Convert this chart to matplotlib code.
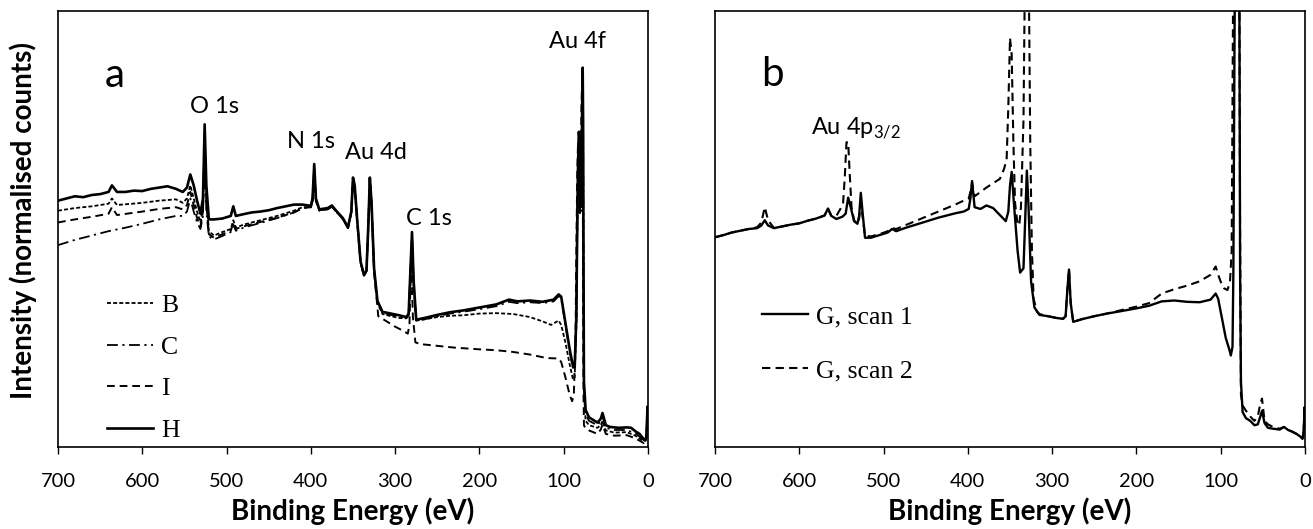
import matplotlib
matplotlib.use("Agg")
import matplotlib.pyplot as plt
import numpy as np

plt.rcParams['font.family'] = ['Lato', 'DejaVu Sans']
plt.rcParams['mathtext.fontset'] = 'custom'
plt.rcParams['mathtext.rm'] = 'Lato'

# ---------------- Panel a data (normalised counts, 0-100 of axis height) ----------------
H_x = [700, 690, 680, 670, 660, 650, 640, 636, 630, 620, 610, 600, 590, 580, 570, 560, 552, 547, 543, 539,
       535, 531, 528, 526, 524, 521, 515, 505, 495, 492, 489, 480, 470, 460, 450, 440, 430, 420, 410, 400,
       398, 396, 394, 390, 380, 375, 370, 362, 356, 352, 350, 348, 345, 341, 337, 334, 332, 330, 328, 325,
       321, 315, 305, 295, 287, 284, 282, 280, 278, 275, 265, 250, 235, 220, 200, 180, 165, 155, 140, 125,
       112, 106, 103, 98, 93, 89, 87, 85, 84, 83, 82, 81, 80, 79, 78, 77.5, 77, 76.5, 76, 74,
       70, 65, 60, 56, 54, 50, 45, 35, 25, 20, 15, 10, 5, 3, 2, 1, 0.5, 0]
H_y = [56.5, 57.0, 57.5, 57.3, 57.8, 58.0, 58.5, 60.0, 58.5, 58.5, 58.8, 58.7, 59.2, 59.5, 59.8, 59.2, 58.5, 59.5, 62.5, 60.0,
       56.5, 53.5, 57.0, 74.0, 60.0, 52.2, 52.2, 52.4, 53.0, 55.2, 53.0, 53.4, 53.8, 54.0, 54.3, 54.8, 55.2, 55.6, 55.6, 55.3,
       57.0, 64.9, 57.0, 54.5, 54.8, 55.4, 54.2, 52.5, 50.4, 54.0, 61.8, 60.0, 52.0, 42.5, 39.5, 40.5, 50.0, 61.8, 56.0, 41.0,
       33.5, 31.0, 30.6, 30.2, 29.8, 30.5, 40.0, 49.3, 38.0, 29.2, 29.6, 30.3, 30.9, 31.3, 32.0, 32.7, 33.8, 33.4, 33.6, 33.3,
       33.8, 35.0, 34.5, 28.5, 22.5, 18.5, 18.2, 30.0, 50.0, 65.0, 72.3, 70.0, 55.0, 60.0, 80.0, 87.0, 75.0, 40.0, 15.0, 8.5,
       6.8, 6.2, 5.6, 6.5, 7.8, 5.0, 4.6, 4.4, 4.5, 4.4, 3.6, 3.0, 1.8, 1.5, 2.5, 7.0, 9.3, 5.0]

B_x = [700, 680, 660, 640, 636, 630, 600, 580, 560, 552, 547, 543, 539, 535, 531, 528, 526, 524, 521, 515,
       505, 495, 492, 489, 480, 460, 440, 420, 410, 400, 398, 396, 394, 390, 380, 375, 370, 362, 356, 352,
       350, 348, 345, 341, 337, 334, 332, 330, 328, 325, 321, 315, 305, 295, 287, 284, 282, 280, 278, 275,
       265, 250, 235, 220, 200, 180, 160, 140, 125, 115, 106, 103, 98, 93, 89, 87, 85, 84, 83, 82,
       81, 80, 79, 78, 77.5, 77, 76.5, 76, 74, 70, 60, 56, 54, 50, 40, 25, 15, 5, 2, 0.5, 0]
B_y = [54.2, 54.8, 55.2, 55.8, 57.0, 55.5, 56.0, 56.5, 56.8, 56.0, 57.0, 60.0, 57.0, 54.0, 51.5, 55.0, 72.0, 58.0, 49.5, 48.5,
       49.3, 50.0, 52.0, 50.3, 51.0, 52.0, 53.0, 54.2, 55.0, 55.0, 56.5, 64.0, 56.5, 54.3, 54.6, 55.2, 54.0, 52.3, 50.2, 53.8,
       61.5, 59.5, 51.8, 42.3, 39.3, 40.3, 49.8, 61.5, 55.8, 40.8, 33.0, 30.5, 30.0, 29.6, 29.5, 30.0, 39.0, 48.0, 37.0, 29.0,
       29.3, 29.8, 30.1, 30.2, 30.6, 30.7, 30.5, 29.8, 28.8, 28.0, 29.0, 28.0, 24.0, 19.0, 15.5, 16.0, 28.0, 48.0, 63.0, 71.0,
       69.0, 54.0, 59.0, 79.0, 86.0, 74.0, 38.0, 13.0, 6.0, 5.0, 4.4, 5.0, 6.0, 3.8, 3.3, 3.4, 2.6, 1.3, 2.0, 8.0, 4.0]

C_x = [700, 680, 660, 640, 620, 600, 580, 560, 552, 547, 543, 539, 535, 531, 528, 526, 524, 521, 515, 505,
       495, 492, 489, 480, 460, 440, 420, 410, 400, 398, 396, 394, 390, 380, 375, 370, 362, 356, 352, 350,
       348, 345, 341, 337, 334, 332, 330, 328, 325, 321, 315, 305, 295, 287, 284, 282, 280, 278, 275, 265,
       250, 235, 220, 200, 180, 165, 155, 140, 125, 112, 106, 103, 98, 93, 89, 87, 85, 84, 83, 82,
       81, 80, 79, 78, 77.5, 77, 76.5, 76, 74, 70, 60, 56, 54, 50, 40, 25, 15, 5, 2, 0.5, 0]
C_y = [46.3, 47.5, 48.5, 49.5, 50.3, 51.2, 52.2, 53.0, 53.0, 54.0, 57.0, 54.0, 51.5, 50.0, 53.0, 68.0, 54.0, 48.3, 47.6, 48.4,
       49.3, 51.0, 49.6, 50.3, 51.4, 52.5, 53.8, 54.8, 55.0, 56.5, 64.0, 56.5, 54.2, 54.5, 55.1, 54.0, 52.3, 50.2, 53.8, 61.5,
       59.5, 51.8, 42.3, 39.3, 40.3, 49.8, 61.5, 55.8, 40.8, 33.2, 30.8, 30.3, 29.9, 29.5, 30.2, 39.5, 48.8, 37.5, 29.0, 29.3,
       30.0, 30.6, 31.0, 31.6, 32.3, 33.3, 33.0, 33.2, 33.0, 33.4, 34.6, 34.0, 28.0, 22.0, 18.0, 17.8, 29.0, 49.0, 64.0, 71.5,
       69.5, 54.5, 59.5, 79.5, 86.5, 74.5, 39.0, 14.0, 7.5, 6.0, 5.0, 6.0, 7.0, 4.4, 3.9, 3.9, 3.1, 1.6, 2.2, 8.5, 4.5]

I_x = [700, 680, 660, 640, 636, 630, 600, 580, 560, 552, 547, 543, 539, 535, 531, 528, 526, 524, 521, 515,
       505, 495, 492, 489, 480, 460, 440, 420, 410, 400, 398, 396, 394, 390, 380, 375, 370, 362, 356, 352,
       350, 348, 345, 341, 337, 334, 332, 330, 328, 325, 320, 310, 300, 290, 285, 283, 281, 279, 276, 270,
       250, 230, 200, 180, 160, 140, 120, 106, 103, 98, 93, 90, 88, 86, 85, 84, 83, 82, 81, 80,
       79, 78, 77.5, 77, 76.5, 76, 74, 70, 60, 56, 54, 50, 40, 25, 15, 5, 2, 0.5, 0]
I_y = [51.5, 52.2, 52.8, 53.5, 55.0, 53.2, 54.0, 54.6, 55.0, 54.5, 55.5, 58.5, 55.5, 52.5, 50.5, 54.0, 70.0, 56.0, 48.8, 48.0,
       48.8, 49.6, 51.5, 50.0, 50.6, 51.6, 52.6, 53.8, 54.8, 55.0, 56.5, 64.0, 56.5, 54.3, 54.6, 55.2, 54.0, 52.3, 50.2, 53.8,
       61.5, 59.5, 51.8, 42.3, 39.3, 40.3, 49.8, 61.5, 55.8, 40.0, 30.0, 28.8, 27.6, 26.6, 26.0, 28.0, 44.0, 30.0, 24.0, 23.6,
       23.2, 22.8, 22.4, 22.2, 21.8, 21.2, 20.4, 20.3, 19.5, 16.0, 12.0, 10.5, 12.0, 25.0, 45.0, 62.0, 70.0, 68.0, 53.0, 58.0,
       78.0, 85.0, 73.0, 36.0, 12.0, 5.0, 4.2, 3.8, 3.0, 4.0, 5.2, 3.0, 2.6, 2.7, 2.0, 0.9, 1.6, 7.5, 3.5]

# ---------------- Panel b data ----------------
S1_x = [700, 690, 680, 670, 660, 650, 645, 641, 637, 630, 620, 610, 600, 590, 580, 570, 566, 562, 556, 549,
        545, 542, 539, 535, 531, 529, 527, 525, 522, 515, 505, 495, 490, 485, 475, 465, 455, 445, 435, 425,
        415, 405, 399, 397, 395, 392, 385, 378, 370, 362, 355, 352, 350, 348, 345, 341, 338, 334, 332, 330,
        328, 325, 321, 315, 305, 295, 287, 284, 282, 280, 278, 275, 265, 250, 235, 220, 200, 185, 170, 155,
        140, 125, 112, 106, 103, 99, 94, 90, 88, 86, 85, 84, 83, 78, 77, 76, 74, 70, 65, 60,
        56, 53, 51, 48, 44, 38, 30, 25, 20, 15, 10, 5, 3, 2, 1, 0.5, 0]
S1_y = [48.1, 48.6, 49.2, 49.6, 50.0, 50.2, 50.8, 52.0, 50.8, 50.2, 50.6, 51.0, 51.3, 51.9, 52.4, 53.1, 54.7, 53.0, 52.3, 52.8,
        53.5, 57.2, 55.0, 51.8, 51.2, 53.0, 58.3, 54.0, 48.0, 48.0, 48.6, 49.2, 50.0, 49.5, 50.2, 50.8, 51.4, 52.0, 52.6, 53.1,
        53.6, 54.0, 54.6, 57.0, 61.0, 55.0, 54.6, 55.4, 54.8, 53.2, 51.8, 54.0, 60.0, 63.1, 55.0, 45.0, 40.0, 41.0, 52.0, 63.4,
        55.0, 38.0, 32.0, 30.3, 30.0, 29.6, 29.4, 30.0, 36.0, 40.7, 33.0, 28.7, 29.3, 30.0, 30.6, 31.1, 31.8, 32.4, 33.4, 33.6,
        33.3, 33.2, 33.8, 35.2, 34.0, 30.0, 25.0, 22.5, 21.0, 23.0, 40.0, 80.0, 115.0, 115.0, 40.0, 15.0, 8.0, 6.6, 6.0, 5.0,
        5.2, 7.0, 8.3, 5.5, 4.4, 4.2, 4.0, 4.6, 3.9, 3.5, 3.0, 2.3, 1.9, 3.0, 6.0, 9.1, 5.0]

S2_x = [700, 690, 680, 670, 660, 650, 645, 641, 637, 630, 620, 610, 600, 590, 580, 570, 566, 562, 556, 551,
        548, 546, 544, 542, 540, 538, 535, 531, 529, 527, 525, 522, 515, 505, 495, 490, 485, 475, 465, 455,
        445, 435, 425, 415, 405, 399, 397, 395, 392, 385, 378, 370, 362, 357, 354, 352, 350, 348, 346, 344,
        341, 339, 337, 334, 332, 328, 326, 324, 322, 318, 315, 305, 295, 287, 284, 282, 280, 278, 275, 265,
        250, 235, 220, 200, 185, 170, 155, 140, 125, 112, 106, 103, 100, 96, 92, 89, 87, 86, 85, 78,
        77, 76, 74, 70, 65, 60, 56, 53, 51, 48, 44, 38, 30, 25, 20, 15, 10, 5, 3, 2, 1, 0.5, 0]
S2_y = [48.1, 48.6, 49.2, 49.6, 50.0, 50.4, 51.5, 55.0, 52.0, 50.2, 50.6, 51.0, 51.3, 51.9, 52.4, 53.1, 54.7, 53.0, 53.0, 54.7,
        56.0, 62.0, 69.9, 69.9, 62.0, 55.0, 52.0, 51.2, 52.5, 56.0, 53.0, 48.5, 48.3, 48.8, 49.5, 50.2, 50.0, 50.8, 51.6, 52.4,
        53.2, 54.0, 54.8, 55.6, 56.5, 57.0, 58.5, 60.5, 57.5, 58.5, 59.5, 60.5, 61.5, 63.8, 66.0, 78.0, 93.8, 90.0, 70.0, 56.0,
        51.0, 50.9, 55.0, 75.0, 115.0, 115.0, 70.0, 45.0, 34.0, 31.0, 30.5, 30.0, 29.6, 29.4, 30.0, 36.0, 40.7, 33.0, 28.7, 29.3,
        30.0, 30.6, 31.3, 32.2, 33.0, 35.2, 36.2, 37.0, 38.0, 39.5, 41.4, 39.5, 37.9, 36.4, 36.0, 37.9, 45.0, 80.0, 115.0, 115.0,
        50.0, 12.0, 9.5, 8.3, 7.0, 6.0, 7.0, 10.0, 11.1, 6.0, 5.2, 4.6, 4.2, 4.6, 3.9, 3.5, 3.0, 2.3, 1.9, 3.0, 6.0, 9.1, 5.0]

xticks = [700, 600, 500, 400, 300, 200, 100, 0]
legend_a = ['B', 'C', 'I', 'H']
legend_b = ['G, scan 1', 'G, scan 2']
xlabel = 'Binding Energy (eV)'
ylabel = 'Intensity (normalised counts)'

# ---------------- Figure ----------------
fig = plt.figure(figsize=(13.13, 5.29), dpi=100)
ax1 = fig.add_axes([58 / 1313, 82 / 529, 590 / 1313, 436 / 529])
ax2 = fig.add_axes([715 / 1313, 82 / 529, 590 / 1313, 436 / 529])

style_B = dict(color='black', lw=1.3, linestyle=(0, (2.2, 1.2)))
style_C = dict(color='black', lw=1.3, linestyle=(0, (6, 2.5, 1.2, 2.5)))
style_I = dict(color='black', lw=1.4, linestyle=(0, (4, 2.5)))
style_H = dict(color='black', lw=1.9, linestyle='-')

lB, = ax1.plot(B_x, B_y, **style_B)
lC, = ax1.plot(C_x, C_y, **style_C)
lI, = ax1.plot(I_x, I_y, **style_I)
lH, = ax1.plot(H_x, H_y, **style_H)

l1, = ax2.plot(S1_x, S1_y, color='black', lw=1.7, linestyle='-')
l2, = ax2.plot(S2_x, S2_y, color='black', lw=1.5, linestyle=(0, (4, 2.5)))

for ax in (ax1, ax2):
    ax.set_xlim(700, 0)
    ax.set_ylim(0, 100)
    ax.set_xticks(xticks)
    ax.set_xticklabels([str(t) for t in xticks])
    ax.set_yticks([])
    ax.tick_params(axis='x', direction='out', length=5, width=1, labelsize=14.5, pad=14)
    for s in ax.spines.values():
        s.set_linewidth(1.2)
        s.set_color('black')
    ax.set_xlabel(xlabel, fontsize=20, fontweight='bold', labelpad=5)

ax1.set_ylabel(ylabel, fontsize=20, fontweight='bold')
ax1.yaxis.set_label_coords(-0.036, 0.52)

serif = {'family': 'Liberation Serif', 'size': 18.5}
leg1 = ax1.legend([lB, lC, lI, lH], legend_a, loc='center left', bbox_to_anchor=(0.083, 0.181),
                  frameon=False, prop=serif, handlelength=1.8, handletextpad=0.3,
                  labelspacing=0.72, borderpad=0, borderaxespad=0)
leg2 = ax2.legend([l1, l2], legend_b, loc='center left', bbox_to_anchor=(0.08, 0.237),
                  frameon=False, prop=serif, handlelength=1.8, handletextpad=0.3,
                  labelspacing=1.2, borderpad=0, borderaxespad=0)

# Panel letters and peak labels
ax1.text(633, 85.1, 'a', fontsize=29, ha='center', va='center')
ax2.text(632, 85.4, 'b', fontsize=29, ha='center', va='center')
lab = dict(fontsize=17, ha='center', va='center')
ax1.text(514, 78.2, 'O 1s', **lab)
ax1.text(400, 70.0, 'N 1s', **lab)
ax1.text(323, 67.5, 'Au 4d', **lab)
ax1.text(260, 52.4, 'C 1s', **lab)
ax1.text(84, 93.0, 'Au 4f', **lab)
ax2.text(533, 73.0, r'Au 4p$_{\mathregular{3/2}}$', **lab)

fig.savefig('out.png', dpi=100)
